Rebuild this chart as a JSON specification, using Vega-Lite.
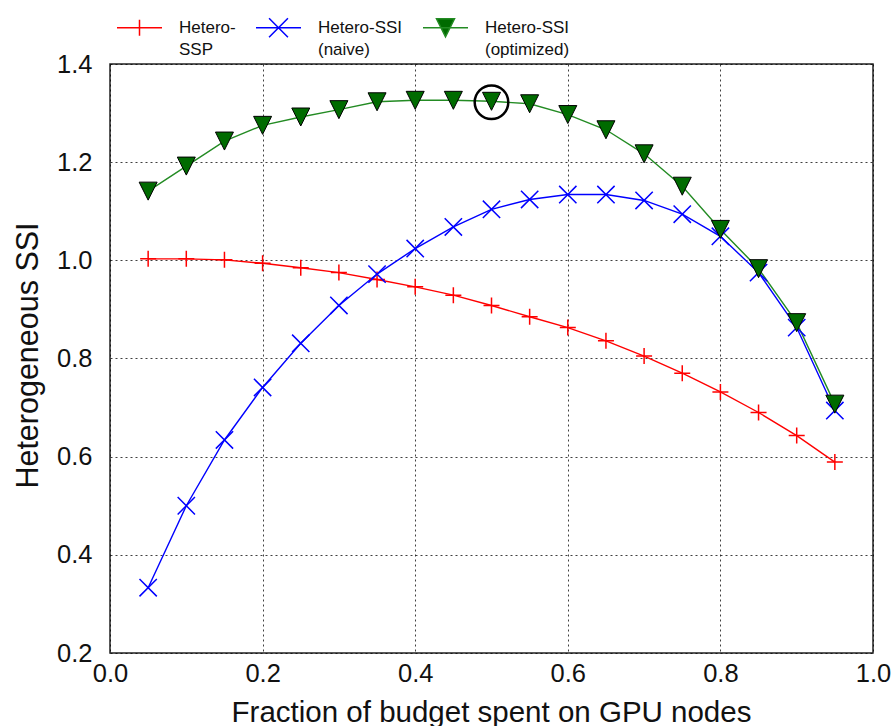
{
  "$schema": "https://vega.github.io/schema/vega-lite/v6.json",
  "width": 763,
  "height": 589,
  "autosize": {"type": "none"},
  "padding": {"left": 110, "top": 64, "right": 20, "bottom": 73},
  "background": "white",
  "config": {
    "font": "Liberation Sans",
    "view": {"stroke": "#222222", "strokeWidth": 1.5},
    "axis": {
      "labelFont": "Liberation Sans",
      "titleFont": "Liberation Sans",
      "labelColor": "#111111",
      "titleColor": "#111111",
      "labelFontSize": 25.5,
      "titleFontSize": 29.5,
      "titleFontWeight": "normal",
      "ticks": false,
      "domain": false,
      "grid": true,
      "gridColor": "#000000",
      "gridDash": [2, 3],
      "gridOpacity": 0.75,
      "gridWidth": 1,
      "labelFlush": false,
      "labelOverlap": false
    }
  },
  "data": {
    "values": [
      {"x": 0.05, "y": 1.003, "series": "Hetero-SSP"},
      {"x": 0.10, "y": 1.003, "series": "Hetero-SSP"},
      {"x": 0.15, "y": 1.001, "series": "Hetero-SSP"},
      {"x": 0.20, "y": 0.994, "series": "Hetero-SSP"},
      {"x": 0.25, "y": 0.985, "series": "Hetero-SSP"},
      {"x": 0.30, "y": 0.975, "series": "Hetero-SSP"},
      {"x": 0.35, "y": 0.961, "series": "Hetero-SSP"},
      {"x": 0.40, "y": 0.946, "series": "Hetero-SSP"},
      {"x": 0.45, "y": 0.929, "series": "Hetero-SSP"},
      {"x": 0.50, "y": 0.908, "series": "Hetero-SSP"},
      {"x": 0.55, "y": 0.885, "series": "Hetero-SSP"},
      {"x": 0.60, "y": 0.863, "series": "Hetero-SSP"},
      {"x": 0.65, "y": 0.836, "series": "Hetero-SSP"},
      {"x": 0.70, "y": 0.805, "series": "Hetero-SSP"},
      {"x": 0.75, "y": 0.770, "series": "Hetero-SSP"},
      {"x": 0.80, "y": 0.732, "series": "Hetero-SSP"},
      {"x": 0.85, "y": 0.690, "series": "Hetero-SSP"},
      {"x": 0.90, "y": 0.643, "series": "Hetero-SSP"},
      {"x": 0.95, "y": 0.589, "series": "Hetero-SSP"},
      {"x": 0.05, "y": 0.333, "series": "Hetero-SSI (naive)"},
      {"x": 0.10, "y": 0.500, "series": "Hetero-SSI (naive)"},
      {"x": 0.15, "y": 0.634, "series": "Hetero-SSI (naive)"},
      {"x": 0.20, "y": 0.741, "series": "Hetero-SSI (naive)"},
      {"x": 0.25, "y": 0.831, "series": "Hetero-SSI (naive)"},
      {"x": 0.30, "y": 0.908, "series": "Hetero-SSI (naive)"},
      {"x": 0.35, "y": 0.972, "series": "Hetero-SSI (naive)"},
      {"x": 0.40, "y": 1.024, "series": "Hetero-SSI (naive)"},
      {"x": 0.45, "y": 1.068, "series": "Hetero-SSI (naive)"},
      {"x": 0.50, "y": 1.104, "series": "Hetero-SSI (naive)"},
      {"x": 0.55, "y": 1.124, "series": "Hetero-SSI (naive)"},
      {"x": 0.60, "y": 1.134, "series": "Hetero-SSI (naive)"},
      {"x": 0.65, "y": 1.134, "series": "Hetero-SSI (naive)"},
      {"x": 0.70, "y": 1.122, "series": "Hetero-SSI (naive)"},
      {"x": 0.75, "y": 1.094, "series": "Hetero-SSI (naive)"},
      {"x": 0.80, "y": 1.049, "series": "Hetero-SSI (naive)"},
      {"x": 0.85, "y": 0.975, "series": "Hetero-SSI (naive)"},
      {"x": 0.90, "y": 0.863, "series": "Hetero-SSI (naive)"},
      {"x": 0.95, "y": 0.694, "series": "Hetero-SSI (naive)"},
      {"x": 0.05, "y": 1.141, "series": "Hetero-SSI (optimized)"},
      {"x": 0.10, "y": 1.192, "series": "Hetero-SSI (optimized)"},
      {"x": 0.15, "y": 1.243, "series": "Hetero-SSI (optimized)"},
      {"x": 0.20, "y": 1.275, "series": "Hetero-SSI (optimized)"},
      {"x": 0.25, "y": 1.292, "series": "Hetero-SSI (optimized)"},
      {"x": 0.30, "y": 1.307, "series": "Hetero-SSI (optimized)"},
      {"x": 0.35, "y": 1.323, "series": "Hetero-SSI (optimized)"},
      {"x": 0.40, "y": 1.326, "series": "Hetero-SSI (optimized)"},
      {"x": 0.45, "y": 1.326, "series": "Hetero-SSI (optimized)"},
      {"x": 0.50, "y": 1.324, "series": "Hetero-SSI (optimized)"},
      {"x": 0.55, "y": 1.319, "series": "Hetero-SSI (optimized)"},
      {"x": 0.60, "y": 1.297, "series": "Hetero-SSI (optimized)"},
      {"x": 0.65, "y": 1.266, "series": "Hetero-SSI (optimized)"},
      {"x": 0.70, "y": 1.217, "series": "Hetero-SSI (optimized)"},
      {"x": 0.75, "y": 1.151, "series": "Hetero-SSI (optimized)"},
      {"x": 0.80, "y": 1.063, "series": "Hetero-SSI (optimized)"},
      {"x": 0.85, "y": 0.983, "series": "Hetero-SSI (optimized)"},
      {"x": 0.90, "y": 0.873, "series": "Hetero-SSI (optimized)"},
      {"x": 0.95, "y": 0.707, "series": "Hetero-SSI (optimized)"}
    ]
  },
  "encoding": {
    "x": {
      "field": "x",
      "type": "quantitative",
      "scale": {"domain": [0, 1], "nice": false, "zero": false},
      "axis": {
        "values": [0, 0.2, 0.4, 0.6, 0.8, 1.0],
        "format": ".1f",
        "labelPadding": 8,
        "title": "Fraction of budget spent on GPU nodes",
        "titleX": 381,
        "titleY": 68,
        "titleBaseline": "alphabetic",
        "titleAnchor": "middle"
      }
    },
    "y": {
      "field": "y",
      "type": "quantitative",
      "scale": {"domain": [0.2, 1.4], "nice": false, "zero": false},
      "axis": {
        "values": [0.2, 0.4, 0.6, 0.8, 1.0, 1.2, 1.4],
        "format": ".1f",
        "labelPadding": 18,
        "labelBaseline": "middle",
        "title": "Heterogeneous SSI",
        "titleFontSize": 30.5,
        "titleAngle": -90,
        "titleX": -73,
        "titleY": 291,
        "titleBaseline": "alphabetic",
        "titleAnchor": "middle"
      }
    }
  },
  "layer": [
    {
      "mark": {"type": "line", "strokeWidth": 1.4},
      "encoding": {
        "color": {
          "field": "series",
          "type": "nominal",
          "scale": {
            "domain": ["Hetero-SSP", "Hetero-SSI (naive)", "Hetero-SSI (optimized)"],
            "range": ["#ff0000", "#0000ff", "#238b23"]
          },
          "legend": {
            "orient": "none",
            "legendX": 6,
            "legendY": -60,
            "direction": "horizontal",
            "title": null,
            "padding": 0,
            "labelFont": "Liberation Sans",
            "labelFontSize": 17,
            "labelColor": "#111111",
            "labelOffset": 16,
            "columnPadding": 17,
            "symbolSize": 2025,
            "symbolStrokeWidth": 1.5,
            "labelLimit": 300,
            "labelExpr": "datum.label == 'Hetero-SSP' ? ['Hetero-', 'SSP'] : datum.label == 'Hetero-SSI (naive)' ? ['Hetero-SSI', '(naive)'] : ['Hetero-SSI', '(optimized)']",
            "encode": {
              "labels": {"update": {"lineHeight": {"value": 22}}},
              "symbols": {
                "update": {
                  "shape": {"signal": "datum.value == 'Hetero-SSP' ? 'M-1,0L1,0M0,-0.36L0,0.36' : datum.value == 'Hetero-SSI (naive)' ? 'M-1,0L1,0M-0.42,-0.42L0.42,0.42M-0.42,0.42L0.42,-0.42' : 'M-1,0L1,0M-0.4,-0.4L0.4,-0.4L0,0.4Z'"},
                  "fill": {"signal": "datum.value == 'Hetero-SSI (optimized)' ? '#006b00' : 'transparent'"},
                  "fillOpacity": {"value": 1},
                  "strokeWidth": {"value": 1.5}
                }
              }
            }
          }
        }
      }
    },
    {
      "transform": [{"filter": "datum.series == 'Hetero-SSP'"}],
      "mark": {"type": "point", "shape": "M-1,0L1,0M0,-1L0,1", "size": 256, "stroke": "#ff0000", "strokeWidth": 1.5, "filled": false, "opacity": 1}
    },
    {
      "transform": [{"filter": "datum.series == 'Hetero-SSI (naive)'"}],
      "mark": {"type": "point", "shape": "M-1,-1L1,1M-1,1L1,-1", "size": 300, "stroke": "#0000ff", "strokeWidth": 1.5, "filled": false, "opacity": 1}
    },
    {
      "transform": [{"filter": "datum.series == 'Hetero-SSI (optimized)'"}],
      "mark": {"type": "point", "shape": "M-1,-1L1,-1L0,1Z", "size": 324, "fill": "#006b00", "stroke": "#000000", "strokeWidth": 1, "filled": true, "opacity": 1, "fillOpacity": 1}
    },
    {
      "data": {"values": [{"x": 0.5, "y": 1.322}]},
      "mark": {"type": "point", "shape": "circle", "size": 1130, "stroke": "#000000", "strokeWidth": 2.5, "filled": false, "opacity": 1}
    }
  ]
}
